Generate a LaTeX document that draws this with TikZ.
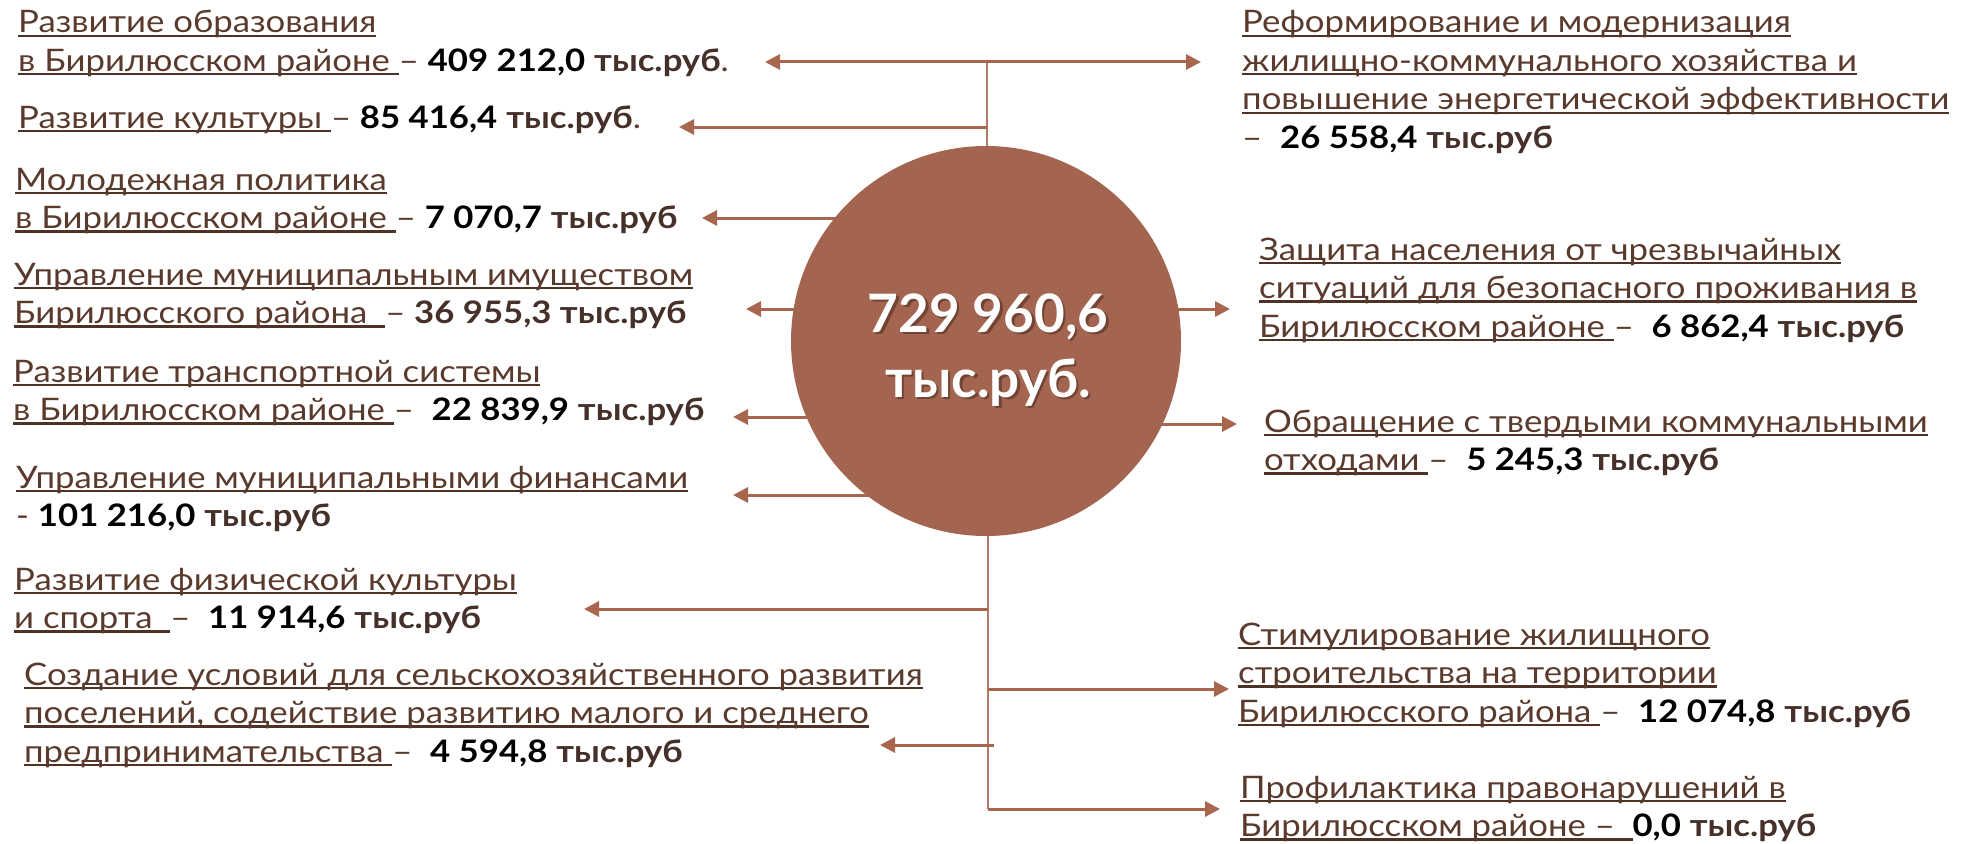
\documentclass[tikz,border=0pt]{standalone}
\usepackage{fontspec}
\setmainfont{Lato}[FakeStretch=1.12]
\newfontfamily\bigfont{Lato}
\usetikzlibrary{arrows.meta}
\definecolor{circfill}{HTML}{A3654F}
\definecolor{arrc}{HTML}{A8664E}
\definecolor{trunkc}{HTML}{B07A66}
\definecolor{txt}{HTML}{5A3A2C}
\definecolor{ulc}{HTML}{4E3226}
\definecolor{rubc}{HTML}{45302A}
\definecolor{shadowc}{HTML}{4A2A1E}
\newcommand\ul[1]{\setbox0\hbox{#1}\rlap{\color{ulc}\rule[-4pt]{\wd0}{2.2pt}}\box0}
\newcommand\num[1]{\textbf{\color{black}#1}}
\newcommand\rub[1]{\textbf{\color{rubc}#1}}
\newcommand\Lines[1]{\vtop{\baselineskip=38.5pt\lineskiplimit=-100pt\halign{##\hfil\cr#1\crcr}}}
\tikzset{
  lbl/.style={inner sep=0pt, anchor=base west, text=txt, font=\fontsize{31}{38}\selectfont},
  arrowline/.style={draw=arrc, line width=3pt, -{Triangle[length=15pt,width=15pt]}},
  trunkline/.style={draw=trunkc, line width=2pt},
  bigtxt/.style={inner sep=0pt, anchor=base, font=\bigfont\bfseries\fontsize{53}{63}\selectfont}
}
\begin{document}
\begin{tikzpicture}[x=1pt,y=-1pt]
\useasboundingbox (0,0) rectangle (1985,843);
\fill[white] (0,0) rectangle (1985,843);

% labels left
\node[lbl] (l1) at (18,33) {\Lines{\ul{Развитие образования}\cr \ul{в Бирилюсском районе\ }– \num{409 212,0} \rub{тыс.руб}.\cr}};
\node[lbl] (l2) at (18,128) {\ul{Развитие культуры\ }– \num{85 416,4} \rub{тыс.руб}.};
\node[lbl] (l3) at (15,190) {\Lines{\ul{Молодежная политика}\cr \ul{в Бирилюсском районе\ }– \num{7 070,7} \rub{тыс.руб}\cr}};
\node[lbl] (l4) at (14,285) {\Lines{\ul{Управление муниципальным имуществом}\cr \ul{Бирилюсского района\ \ }– \rub{36 955,3 тыс.руб}\cr}};
\node[lbl] (l5) at (13,382) {\Lines{\ul{Развитие транспортной системы}\cr \ul{в Бирилюсском районе\ }–\ \ \num{22 839,9} \rub{тыс.руб}\cr}};
\node[lbl] (l6) at (16,488) {\Lines{\ul{Управление муниципальными финансами}\cr - \num{101 216,0} \rub{тыс.руб}\cr}};
\node[lbl] (l7) at (14,590) {\Lines{\ul{Развитие физической культуры}\cr \ul{и спорта\ \ }–\ \ \num{11 914,6} \rub{тыс.руб}\cr}};
\node[lbl] (l8) at (24,685) {\Lines{\ul{Создание условий для сельскохозяйственного развития}\cr \ul{поселений, содействие развитию малого и среднего}\cr \ul{предпринимательства\ }–\ \ \num{4 594,8} \rub{тыс.руб}\cr}};

% labels right
\node[lbl] (r1) at (1242,33) {\Lines{\ul{Реформирование и модернизация}\cr \ul{жилищно-коммунального хозяйства и}\cr \ul{повышение энергетической эффективности}\cr –\ \ \num{26 558,4} \rub{тыс.руб}\cr}};
\node[lbl] (r2) at (1259,260) {\Lines{\ul{Защита населения от чрезвычайных}\cr \ul{ситуаций для безопасного проживания в}\cr \ul{Бирилюсском районе\ }–\ \ \num{6 862,4} \rub{тыс.руб}\cr}};
\node[lbl] (r3) at (1264,432) {\Lines{\ul{Обращение с твердыми коммунальными}\cr \ul{отходами\ }–\ \ \num{5 245,3} \rub{тыс.руб}\cr}};
\node[lbl] (r4) at (1238,645) {\Lines{\ul{Стимулирование жилищного}\cr \ul{строительства на территории}\cr \ul{Бирилюсского района\ }–\ \ \num{12 074,8} \rub{тыс.руб}\cr}};
\node[lbl] (r5) at (1240,798) {\Lines{\ul{Профилактика правонарушений в}\cr \ul{Бирилюсском районе –\ \ }\num{0,0} \rub{тыс.руб}\cr}};

% arrow tips and junctions
\coordinate (cc) at (986,341);
\coordinate (j1) at (987,62);
\coordinate (j2) at (988,809);
\coordinate (t1l) at (765,62);
\coordinate (t1r) at (1201,62);
\coordinate (t2) at (679,127);
\coordinate (t3) at (702,218);
\coordinate (t4) at (746,309);
\coordinate (t5) at (733,417);
\coordinate (t6) at (733,495);
\coordinate (t7) at (584,609);
\coordinate (t8) at (880,745);
\coordinate (r8) at (994,745);
\coordinate (t9) at (1230,309);
\coordinate (t10) at (1237,424);
\coordinate (t11) at (1229,689);
\coordinate (t12) at (1220,809);

% connectors from the circle (drawn first, the circle covers their inner part)
\draw[arrowline] (cc |- t3) -- (t3);
\draw[arrowline] (cc |- t4) -- (t4);
\draw[arrowline] (cc |- t5) -- (t5);
\draw[arrowline] (cc |- t6) -- (t6);
\draw[arrowline] (cc |- t9) -- (t9);
\draw[arrowline] (cc |- t10) -- (t10);

% circle
\node[circle, fill=circfill, minimum size=390pt, inner sep=0pt] (c) at (cc) {};

\draw[trunkline] (j1) -- (j1 |- c.north);
\draw[arrowline] (j1) -- (t1l);
\draw[arrowline] (j1) -- (t1r);
\draw[arrowline] (j1 |- t2) -- (t2);

\draw[trunkline] (j2 |- c.south) -- (j2);
\draw[arrowline] (j2 |- t7) -- (t7);
\draw[arrowline] (r8) -- (t8);
\draw[arrowline] (j2 |- t11) -- (t11);
\draw[arrowline] (j2) -- (t12);

% central text
\node[bigtxt, text=shadowc, opacity=0.55] (s1) at (990.5,334.5) {729 960,6};
\node[bigtxt, text=shadowc, opacity=0.55] (s2) at (990.5,399.5) {тыс.руб.};
\node[bigtxt, text=white] (v1) at (988,332) {729 960,6};
\node[bigtxt, text=white] (v2) at (988,397) {тыс.руб.};
\end{tikzpicture}
\end{document}
